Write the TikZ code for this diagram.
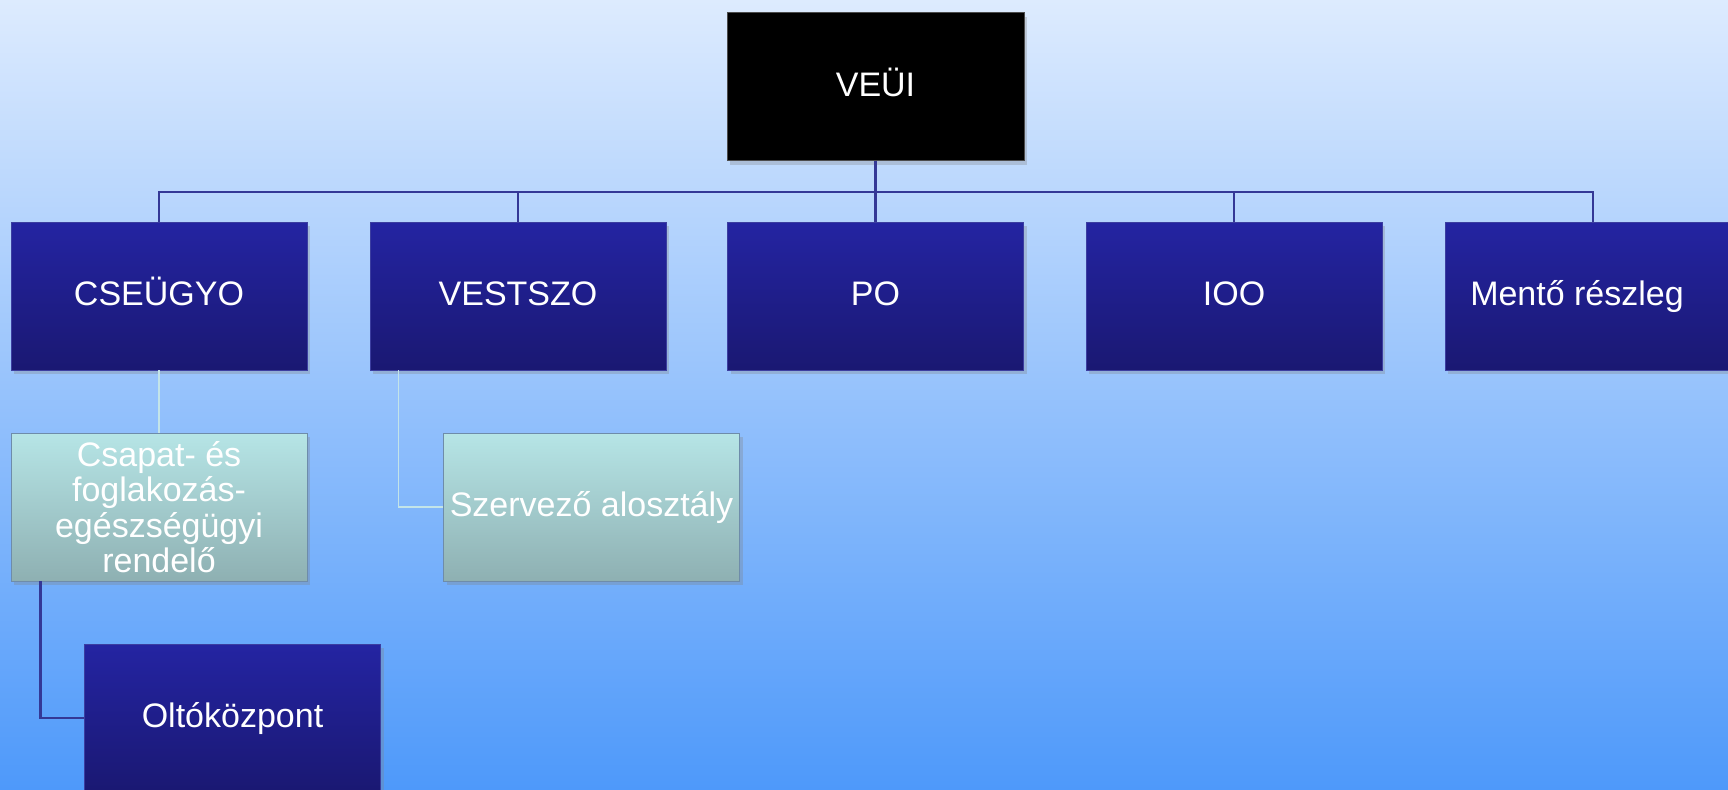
\documentclass[tikz,border=0pt]{standalone}
\usepackage{fontspec}
\setmainfont{Liberation Sans}
\usetikzlibrary{shadows}
\definecolor{bgtop}{RGB}{221,235,254}
\definecolor{bgbot}{RGB}{78,153,250}
\definecolor{darktop}{RGB}{36,36,162}
\definecolor{darkbot}{RGB}{26,24,114}
\definecolor{darkedge}{RGB}{60,62,160}
\definecolor{palettop}{RGB}{182,229,230}
\definecolor{palebot}{RGB}{142,176,178}
\definecolor{paleedge}{RGB}{110,140,170}
\definecolor{busline}{RGB}{52,56,150}
\definecolor{paleline}{RGB}{195,228,232}
\newcommand\boxfont{\fontsize{17}{17.75}\selectfont\lineskiplimit=-20pt\relax}
\tikzset{
  unitbox/.style={rectangle, minimum width=148pt, minimum height=74pt, inner sep=0pt,
    text=white, font=\boxfont,
    drop shadow={shadow xshift=1.5pt, shadow yshift=-2pt, opacity=0.3}},
  oneline/.style={text height=13pt, text depth=3.5pt},
  darkbox/.style={unitbox, oneline, draw=darkedge, line width=0.4pt, top color=darktop, bottom color=darkbot},
  palebox/.style={unitbox, draw=paleedge, line width=0.4pt, top color=palettop, bottom color=palebot},
  headbox/.style={unitbox, oneline, draw=black!70, fill=black},
  busconn/.style={draw=busline, line width=1.2pt},
  paleconn/.style={draw=paleline, line width=0.7pt}
}
\begin{document}
\begin{tikzpicture}[x=0.5pt, y=-0.5pt]
\shade[top color=bgtop, bottom color=bgbot] (0,0) rectangle (1728,789);
\useasboundingbox (0,0) rectangle (1728,789);

% top
\node[headbox, minimum width=148.5pt] (veui) at (875.5,86.5) {VEÜI};

% first row
\node[darkbox] (cse) at (159,296) {CSEÜGYO};
\node[darkbox] (vest) at (518,296) {VESTSZO};
\node[darkbox] (po) at (875.5,296) {PO};
\node[darkbox] (ioo) at (1234,296) {IOO};
\node[darkbox] (ment) at (1593,296) {Mentő részleg\hspace*{16pt}};

% second row
\node[palebox, align=center] (csapat) at (159,507) {Csapat- és\\foglakozás-\\egészségügyi\\rendelő};
\node[palebox, oneline] (szerv) at (591.5,507) {Szervező alosztály};

% third row
\node[darkbox] (olto) at (232.5,718) {Oltóközpont};

\coordinate (bus) at (875.5,192);
\foreach \n in {cse,vest,po,ioo,ment}
  \draw[busconn] (veui.south) -- (bus) -| (\n.north);

\draw[paleconn] (cse.south) -- (csapat.north);
\draw[paleconn] ([xshift=14.5pt]vest.south west) |- (szerv.west);
\draw[busconn] ([xshift=15pt]csapat.south west) |- (olto.west);
\end{tikzpicture}
\end{document}
